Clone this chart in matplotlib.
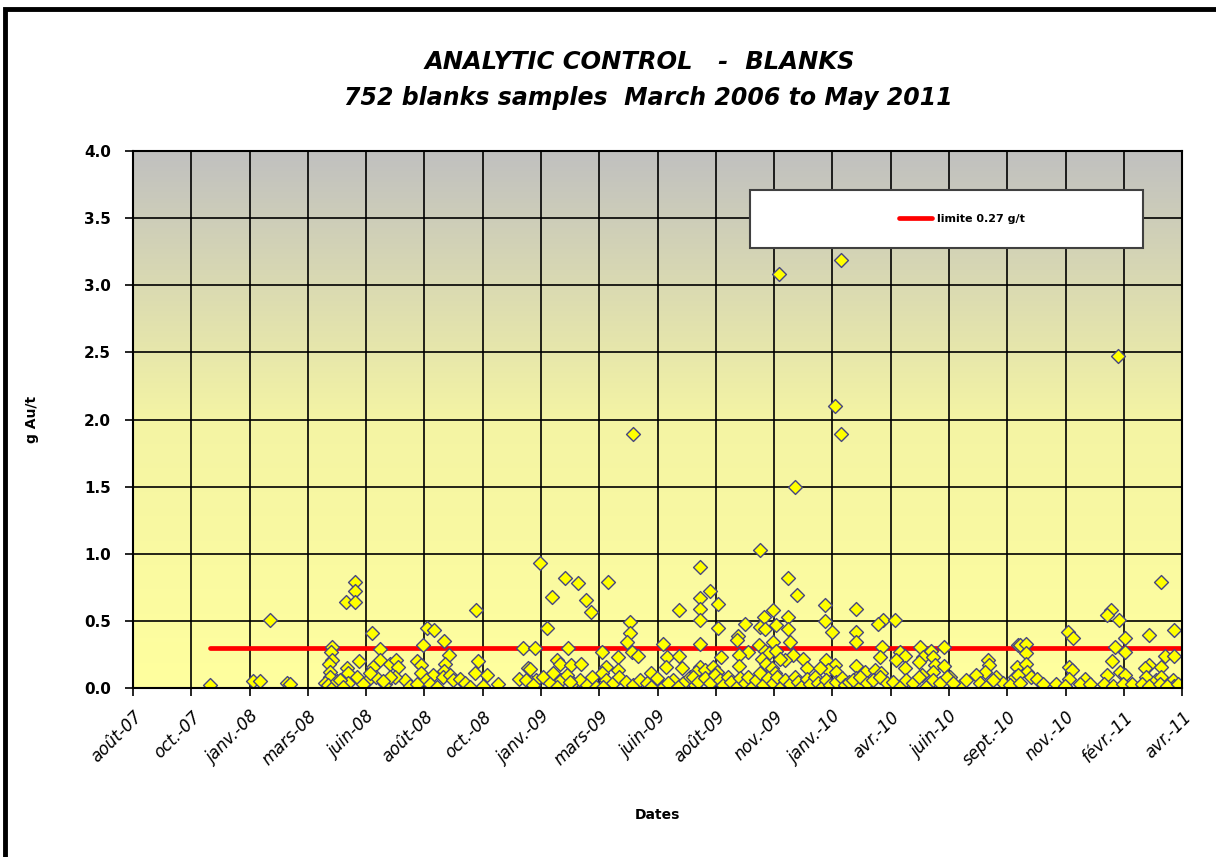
import numpy as np
import matplotlib.pyplot as plt
from matplotlib.colors import LinearSegmentedColormap
from matplotlib.patches import Rectangle
from matplotlib.lines import Line2D

# x values are days counted from 2007-08-06 (first tick of the axis), ticks every 75 days
tick_labels = ['août-07', 'oct.-07', 'janv.-08', 'mars-08', 'juin-08', 'août-08',
               'oct.-08', 'janv.-09', 'mars-09', 'juin-09', 'août-09', 'nov.-09',
               'janv.-10', 'avr.-10', 'juin-10', 'sept.-10', 'nov.-10', 'févr.-11',
               'avr.-11']
tick_step = 75

limit_value = 0.30
limit_label = 'limite 0.27 g/t'

# 2007 - mid 2008
days_a = [99, 154, 163, 176, 198, 202, 286, 286, 274, 286, 256, 255, 256, 252, 253, 254,
          247, 251, 257, 262, 275, 277, 277, 266, 270, 288, 291]
au_a = [0.02, 0.05, 0.055, 0.51, 0.035, 0.03, 0.79, 0.72, 0.64, 0.64, 0.31, 0.27, 0.21, 0.18, 0.12, 0.085,
        0.04, 0.02, 0.01, 0.05, 0.15, 0.11, 0.04, 0.06, 0.01, 0.085, 0.20]

# mid 2008 - early 2009
days_b = [442, 308, 378, 387, 400, 318, 373, 406, 502, 318, 309, 331, 339, 341, 365, 371,
          370, 401, 400, 444, 440, 455, 386, 377, 350, 356, 337, 324, 303, 313, 305, 296,
          365, 399, 408, 412, 421, 427, 434, 450, 470, 497, 508, 508, 382, 391, 331, 322]
au_b = [0.58, 0.41, 0.45, 0.43, 0.35, 0.29, 0.32, 0.25, 0.30, 0.21, 0.16, 0.18, 0.21, 0.16, 0.20, 0.17,
        0.11, 0.18, 0.13, 0.20, 0.11, 0.10, 0.10, 0.06, 0.06, 0.015, 0.085, 0.03, 0.06, 0.085, 0.114, 0.03,
        0.03, 0.085, 0.10, 0.06, 0.07, 0.035, 0.01, 0.015, 0.03, 0.07, 0.15, 0.07, 0.03, 0.01, 0.085, 0.05]

# 2009
days_c = [524, 556, 573, 611, 539, 583, 589, 703, 729, 533, 639, 639, 636, 517, 560, 604,
          624, 642, 650, 682, 687, 703, 730, 511, 545, 549, 563, 576, 686, 707, 609, 603,
          624, 667, 643,
          519, 528, 536, 541, 551, 558, 566, 575, 584, 590, 596, 609, 618, 626, 635, 644,
          652, 661, 674, 682, 695, 708, 717, 723, 506, 515, 545, 562, 605, 667, 689, 701]
au_c = [0.93, 0.82, 0.78, 0.79, 0.68, 0.655, 0.57, 0.58, 0.90, 0.45, 0.49, 0.41, 0.345, 0.30, 0.30, 0.27,
        0.23, 0.27, 0.24, 0.33, 0.23, 0.24, 0.326, 0.14, 0.21, 0.18, 0.17, 0.18, 0.16, 0.15, 0.16, 0.11,
        0.134, 0.11, 1.89,
        0.06, 0.085, 0.035, 0.11, 0.06, 0.097, 0.035, 0.06, 0.022, 0.085, 0.01, 0.06, 0.035, 0.085, 0.047, 0.022,
        0.06, 0.035, 0.072, 0.01, 0.06, 0.035, 0.085, 0.022, 0.06, 0.022, 0.01, 0.047, 0.01, 0.01, 0.035, 0.01]

# late 2009 - early 2010
days_d = [807, 843, 854, 742, 730, 730, 753, 730, 753, 890, 890, 899, 930, 930, 930, 823,
          812, 807, 787, 779, 777, 827, 843, 843, 813, 823, 845, 806, 813, 819, 792, 780,
          780, 757, 849, 839, 862, 867, 828, 832, 809, 815, 822, 826, 892, 903, 894, 905,
          884, 930, 729, 725, 736, 746, 751,
          831, 911, 903, 911, 852,
          721, 727, 736, 742, 749, 755, 759, 766, 770, 777, 781, 787, 792, 796, 802, 807,
          811, 817, 824, 829, 834, 839, 845, 852, 856, 860, 867, 871, 877, 882, 886, 892,
          897, 905, 912, 916, 922, 931, 933]
au_d = [1.03, 0.82, 0.69, 0.72, 0.67, 0.59, 0.63, 0.51, 0.45, 0.62, 0.50, 0.42, 0.586, 0.42, 0.345, 0.58,
        0.53, 0.457, 0.48, 0.39, 0.36, 0.47, 0.527, 0.437, 0.44, 0.345, 0.345, 0.32, 0.28, 0.26, 0.27, 0.25,
        0.164, 0.23, 0.246, 0.21, 0.214, 0.147, 0.28, 0.22, 0.22, 0.18, 0.147, 0.11, 0.21, 0.17, 0.134, 0.12,
        0.147, 0.164, 0.16, 0.12, 0.134, 0.16, 0.12,
        3.08, 3.19, 2.10, 1.89, 1.50,
        0.085, 0.047, 0.072, 0.035, 0.097, 0.06, 0.022, 0.085, 0.047, 0.01, 0.072, 0.035, 0.085, 0.01, 0.06, 0.11,
        0.022, 0.072, 0.035, 0.085, 0.01, 0.06, 0.03, 0.08, 0.047, 0.01, 0.065, 0.03, 0.08, 0.04, 0.01, 0.06,
        0.022, 0.047, 0.072, 0.022, 0.047, 0.072, 0.01]

# 2010
days_e = [965, 959, 981, 964, 961, 987, 993, 982, 1013, 1016, 1012, 1027, 1030, 1032, 1043, 1043,
          993, 942, 955, 963, 1030, 1015, 1051, 1064, 1100, 1102, 1096, 1085, 1111, 1120, 1139, 1137,
          1135,
          927, 935, 944, 952, 961, 970, 978, 987, 995, 1004, 1012, 1021, 1030, 1038, 1047, 1055,
          1072, 1090, 1098, 1107, 1128]
au_e = [0.506, 0.477, 0.506, 0.31, 0.233, 0.27, 0.24, 0.21, 0.31, 0.233, 0.196, 0.28, 0.233, 0.17, 0.31, 0.164,
        0.147, 0.12, 0.134, 0.11, 0.12, 0.097, 0.085, 0.015, 0.21, 0.17, 0.12, 0.097, 0.085, 0.035, 0.32, 0.16,
        0.085,
        0.06, 0.085, 0.035, 0.06, 0.085, 0.035, 0.047, 0.01, 0.06, 0.035, 0.085, 0.01, 0.06, 0.035, 0.085, 0.035,
        0.06, 0.035, 0.01, 0.06, 0.022]

# late 2010 - 2011
days_f = [1323, 1259, 1253, 1269, 1339, 1307, 1203, 1210, 1276, 1141, 1149, 1149, 1149, 1264, 1276, 1328,
          1339, 1260, 1205, 1208, 1308, 1323, 1302, 1150, 1139, 1156, 1163, 1253, 1270, 1276, 1304, 1317,
          1323, 1338, 1340, 1204, 1225, 1268,
          1141, 1171, 1188, 1199, 1218, 1231, 1250, 1261, 1274, 1285, 1298, 1308, 1321, 1330, 1345]
au_f = [0.79, 0.58, 0.544, 0.51, 0.43, 0.395, 0.42, 0.375, 0.377, 0.32, 0.328, 0.26, 0.18, 0.31, 0.27, 0.24,
        0.24, 0.20, 0.16, 0.134, 0.17, 0.16, 0.147, 0.12, 0.097, 0.085, 0.07, 0.097, 0.12, 0.097, 0.085, 0.06,
        0.085, 0.06, 0.015, 0.07, 0.07, 2.47,
        0.035, 0.03, 0.03, 0.015, 0.03, 0.03, 0.03, 0.015, 0.03, 0.03, 0.03, 0.015, 0.03, 0.015, 0.03]

days = np.array(days_a + days_b + days_c + days_d + days_e + days_f)
au = np.array(au_a + au_b + au_c + au_d + au_e + au_f)

plt.rcParams['font.family'] = 'DejaVu Sans'

fig = plt.figure(figsize=(12.16, 8.57), dpi=100)
ax = fig.add_axes([0.1094, 0.197, 0.8627, 0.627])

# outer frame of the chart
fig.patches.append(Rectangle((0.004, -0.05), 1.1, 1.04, transform=fig.transFigure,
                             fill=False, edgecolor='black', linewidth=3.5))

# gradient background, grey at the top to pale yellow at the bottom
cmap = LinearSegmentedColormap.from_list('bg', ['#FFFF9E', '#F4F4A4', '#C0C0C0'])
grad = np.linspace(0, 1, 256).reshape(-1, 1)
ax.imshow(grad, cmap=cmap, aspect='auto', extent=[0, 1, 0, 1], origin='lower',
          transform=ax.transAxes, zorder=0)

ax.plot([days.min(), days.max() + 5], [limit_value, limit_value], color='#FF0000',
        linewidth=3.4, solid_capstyle='round', zorder=3)
ax.scatter(days, au, marker='D', s=50, facecolor='#FFFF00', edgecolor='#464680',
           linewidth=1.0, zorder=4)

ax.set_xlim(0, tick_step * (len(tick_labels) - 1))
ax.set_ylim(0, 4.0)
ax.set_xticks(np.arange(len(tick_labels)) * tick_step)
ax.set_xticklabels(tick_labels, rotation=45, ha='right', rotation_mode='anchor',
                   fontsize=12, fontstyle='italic')
ax.set_yticks(np.arange(0, 4.01, 0.5))
ax.set_yticklabels([f'{v:.1f}' for v in np.arange(0, 4.01, 0.5)], fontsize=11,
                   fontweight='bold')
ax.tick_params(axis='both', direction='out', length=6, width=1.2, color='black')
ax.tick_params(axis='x', pad=8)
ax.tick_params(axis='y', pad=10)

ax.grid(True, color='black', linewidth=1.2, zorder=1)
ax.set_axisbelow(True)
for s in ax.spines.values():
    s.set_linewidth(1.5)
    s.set_zorder(6)

ax.set_xlabel('Dates', fontsize=10, fontweight='bold', labelpad=28)
ax.set_ylabel('g Au/t', fontsize=10, fontweight='bold', labelpad=32)

# legend box
ax.add_patch(Rectangle((0.588, 0.819), 0.375, 0.108, transform=ax.transAxes,
                       facecolor='white', edgecolor='#404040', linewidth=1.5, zorder=7))
handle = Line2D([], [], color='#FF0000', linewidth=3.4, solid_capstyle='round')
leg = ax.legend([handle], [limit_label], loc='center', bbox_to_anchor=(0.79, 0.873),
                frameon=False, prop={'size': 8, 'weight': 'bold'}, handlelength=3.0,
                handletextpad=0.4)
leg.set_zorder(8)

fig.text(0.526, 1 - 62 / 857, 'ANALYTIC CONTROL   -  BLANKS', ha='center', va='center',
         fontsize=17.5, fontweight='bold', fontstyle='italic')
fig.text(0.533, 1 - 98 / 857, '752 blanks samples  March 2006 to May 2011', ha='center',
         va='center', fontsize=17, fontweight='bold', fontstyle='italic')

fig.savefig('out.png', dpi=100)
